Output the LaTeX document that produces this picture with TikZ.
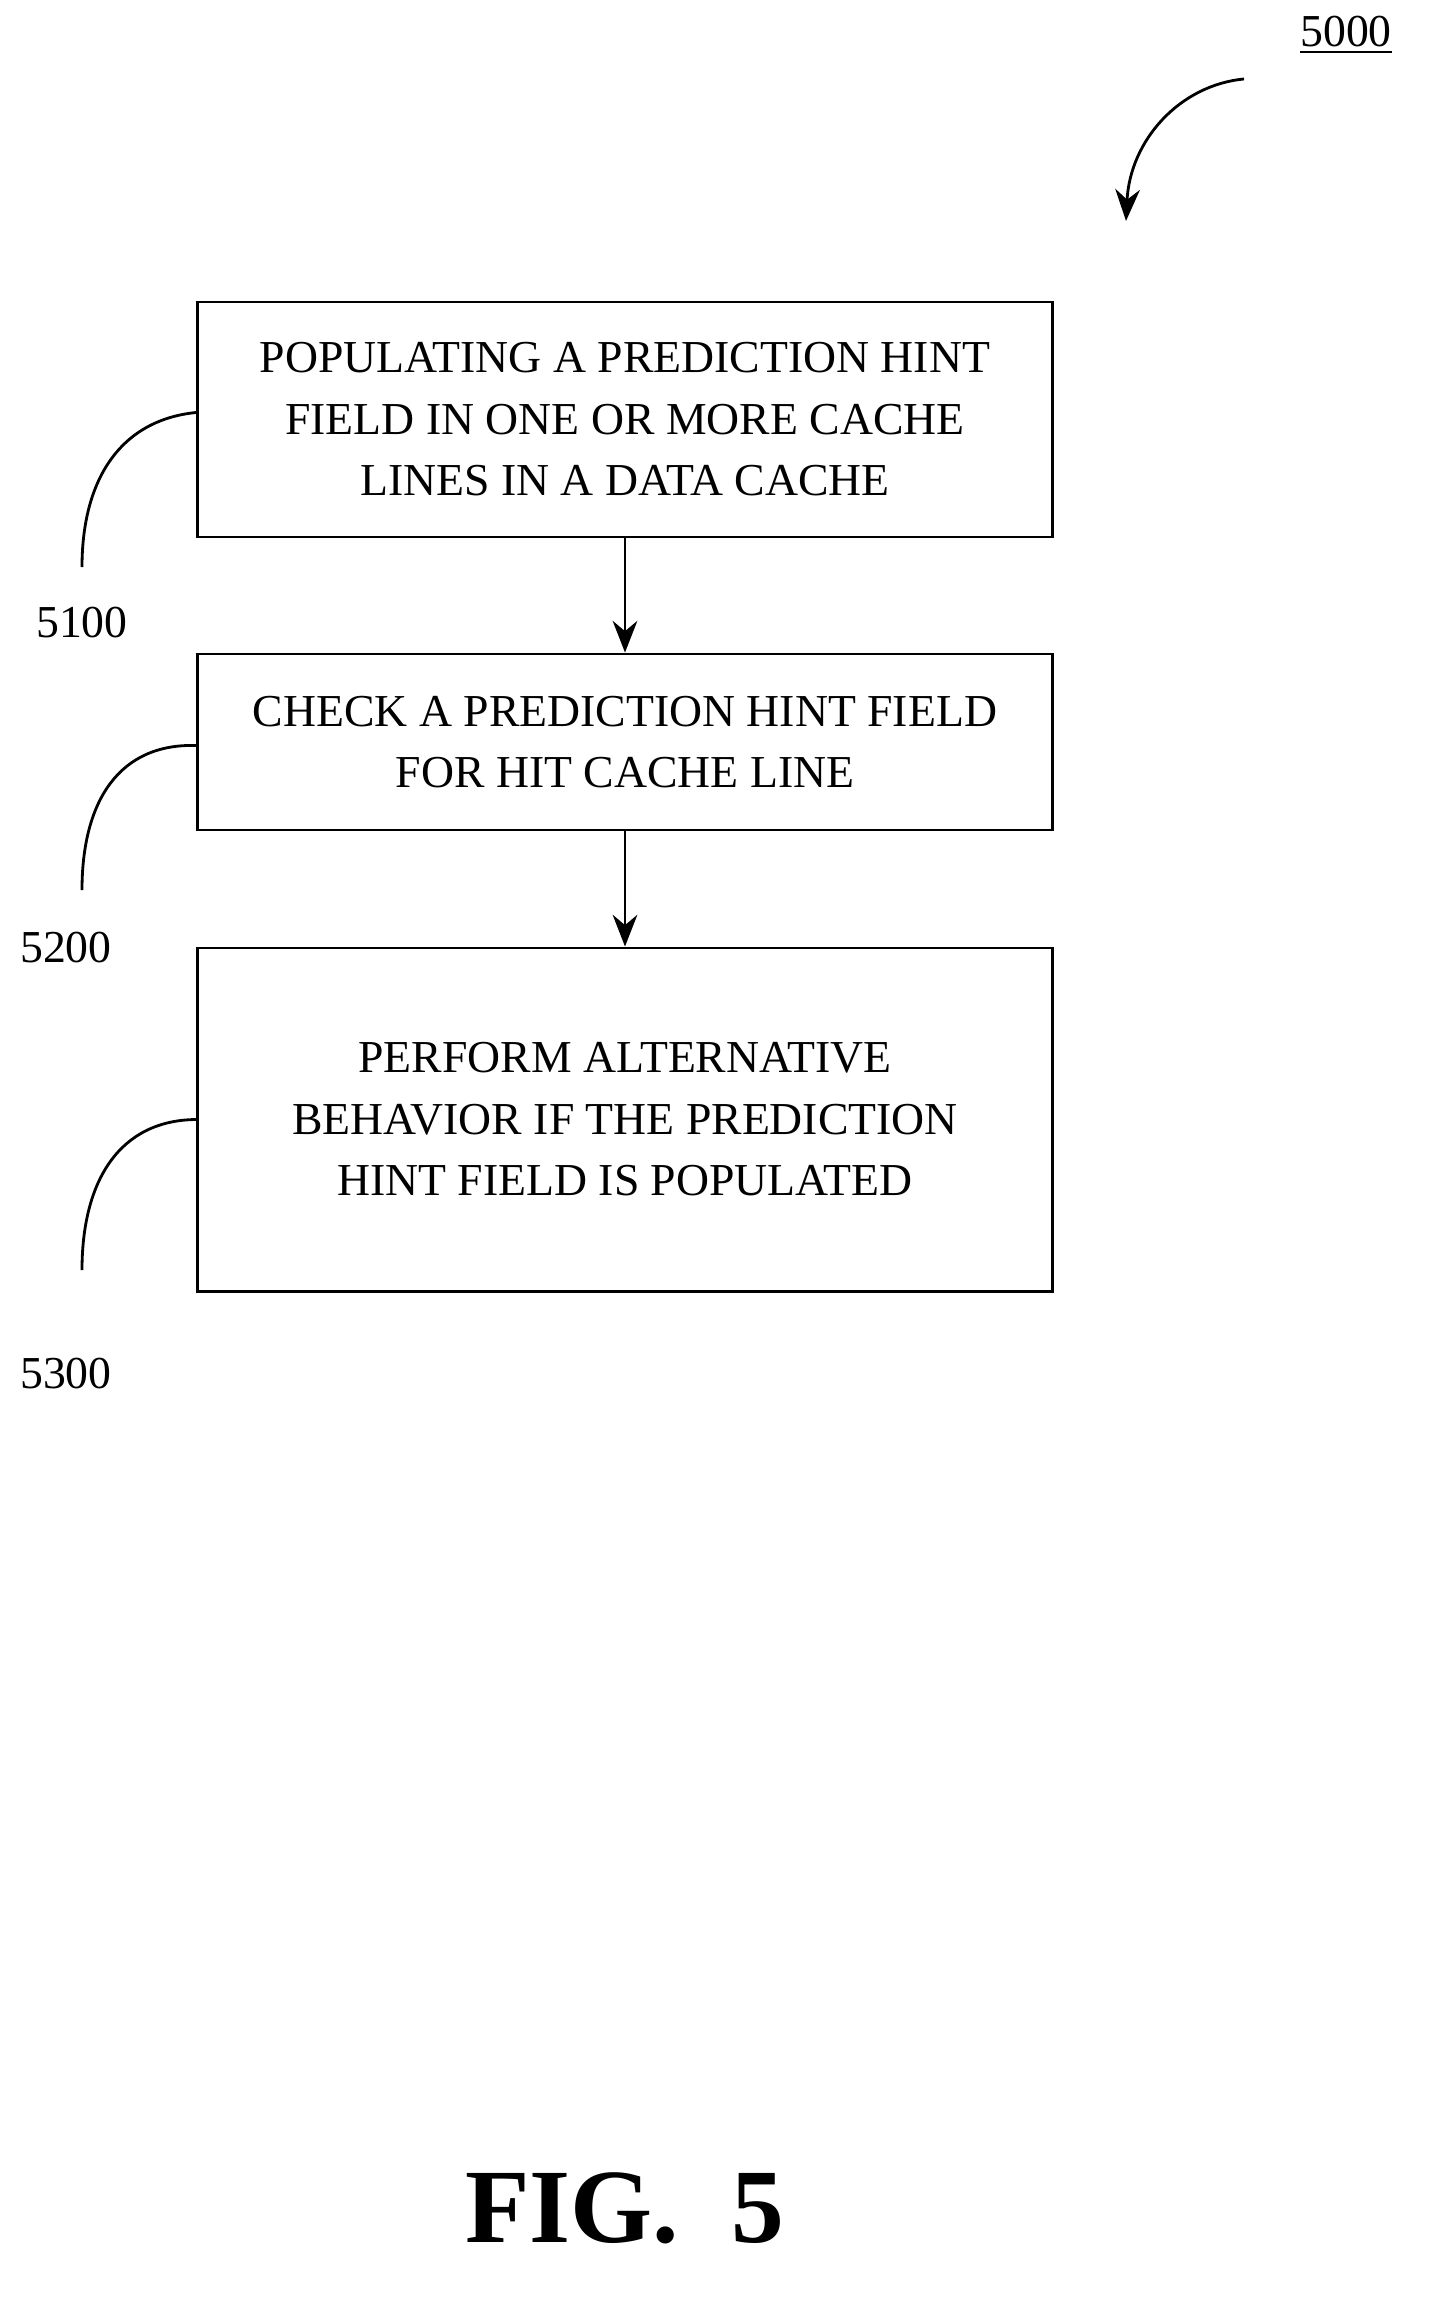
\documentclass[tikz,border=0pt]{standalone}
\usepackage{fontspec}
\setmainfont{Liberation Serif}
\usetikzlibrary{positioning,arrows.meta}
\tikzset{
  stepbox/.style={draw, thick, minimum width=8.54cm, align=center, font=\fontsize{13}{17.5}\selectfont, inner sep=0pt},
  ref/.style={font=\fontsize{13}{15}\selectfont},
  lead/.style={thick},
  flow/.style={thick, -{Stealth[length=9pt,width=7pt]}}
}
\begin{document}
\begin{tikzpicture}[x=0.01cm,y=-0.01cm]
    \useasboundingbox (0,0) rectangle (1443,2306);

    \node[stepbox, minimum height=2.35cm] (populate) at (625,419.5) {POPULATING A PREDICTION HINT\\FIELD IN ONE OR MORE CACHE\\LINES IN A DATA CACHE};
    \node[stepbox, minimum height=1.76cm] (check) at (625,742) {CHECK A PREDICTION HINT FIELD\\FOR HIT CACHE LINE};
    \node[stepbox, minimum height=3.43cm] (perform) at (625,1119.5) {PERFORM ALTERNATIVE\\BEHAVIOR IF THE PREDICTION\\HINT FIELD IS POPULATED};

    \draw[flow] (populate) -- (check);
    \draw[flow] (check) -- (perform);

    \node[ref] (n5100) at (82,623) {5100};
    \node[ref] (n5200) at (66,948) {5200};
    \node[ref] (n5300) at (66,1374) {5300};
    \coordinate (e5100) at (82,567);
    \coordinate (e5200) at (82,890);
    \coordinate (e5300) at (82,1270);

    \draw[lead] ([yshift=2pt]populate.west) .. controls (120,420) and (82,480) .. (e5100);
    \draw[lead] ([yshift=-1pt]check.west) .. controls (120,743) and (82,800) .. (e5200);
    \draw[lead] (perform.west) .. controls (120,1120) and (82,1180) .. (e5300);

    \node[ref] (n5000) at (1346,35) {\underline{5000}};
    \coordinate (a5000) at (1244,79);
    \coordinate (b5000) at (1126,221);
    \draw[flow] (a5000) .. controls (1180,85) and (1130,140) .. (b5000);

    \node[font=\fontsize{30}{34}\selectfont\bfseries] (fig) at (625,2208) {FIG.~~5};
\end{tikzpicture}
\end{document}
